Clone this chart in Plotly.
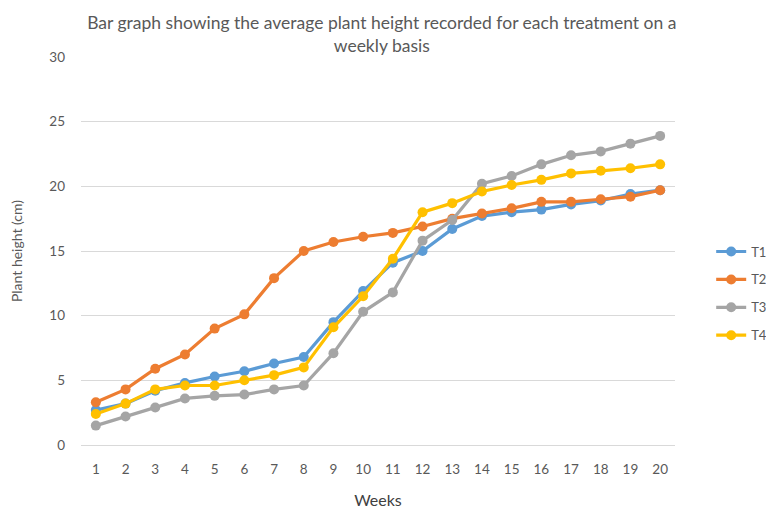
import plotly.graph_objects as go

# weekly average plant height (cm) per treatment
weeks = list(range(1, 21))
t1 = [2.7, 3.2, 4.2, 4.8, 5.3, 5.7, 6.3, 6.8, 9.5, 11.9, 14.1, 15.0, 16.7, 17.7, 18.0, 18.2, 18.6, 18.9, 19.4, 19.7]
t2 = [3.3, 4.3, 5.9, 7.0, 9.0, 10.1, 12.9, 15.0, 15.7, 16.1, 16.4, 16.9, 17.5, 17.9, 18.3, 18.8, 18.8, 19.0, 19.2, 19.7]
t3 = [1.5, 2.2, 2.9, 3.6, 3.8, 3.9, 4.3, 4.6, 7.1, 10.3, 11.8, 15.8, 17.4, 20.2, 20.8, 21.7, 22.4, 22.7, 23.3, 23.9]
t4 = [2.4, 3.2, 4.3, 4.6, 4.6, 5.0, 5.4, 6.0, 9.1, 11.5, 14.4, 18.0, 18.7, 19.6, 20.1, 20.5, 21.0, 21.2, 21.4, 21.7]

series = [("T1", t1, "#5B9BD5"), ("T2", t2, "#ED7D31"),
          ("T3", t3, "#A5A5A5"), ("T4", t4, "#FFC000")]

fig = go.Figure()
for name, vals, col in series:
    fig.add_trace(go.Scatter(
        x=weeks, y=vals, name=name, legendgroup=name,
        mode="lines+markers",
        line=dict(color=col, width=3.2),
        marker=dict(color=col, size=10),
    ))

# page body adds ~8px offset, so figure is a bit smaller than the window
fig.update_layout(
    width=766, height=501,
    margin=dict(l=73, r=99, t=49, b=64),
    paper_bgcolor="white", plot_bgcolor="white",
    font=dict(family="Lato, Liberation Sans, sans-serif", color="#595959", size=13),
    title=dict(
        text="Bar graph showing the average plant height recorded for each treatment on a<br>weekly basis",
        xref="container", x=0.488, xanchor="center",
        yref="container", y=0.958, yanchor="top",
        font=dict(size=17.5, color="#595959"),
    ),
    legend=dict(
        xref="container", x=0.918, xanchor="left",
        yref="container", y=0.43, yanchor="middle",
        traceorder="grouped", tracegroupgap=8,
        font=dict(size=13, color="#595959"),
    ),
)

fig.update_xaxes(
    range=[0.5, 20.5], tickmode="array", tickvals=weeks, automargin=False,
    showgrid=False, showline=True, linecolor="#D9D9D9", zeroline=False,
    ticks="", ticklabelstandoff=12, tickfont=dict(size=13.5, color="#595959"),
    title=dict(text="Weeks", font=dict(size=16, color="#404040"), standoff=19),
)
fig.update_yaxes(
    range=[0, 30], dtick=5, showgrid=True, gridcolor="#D9D9D9", automargin=False,
    zeroline=False, showline=False, ticks="", ticklabelstandoff=15,
    tickfont=dict(size=13.5, color="#595959"),
    title=dict(text="Plant height (cm)", font=dict(size=14, color="#595959"), standoff=25),
)

fig.write_html("out.html")
